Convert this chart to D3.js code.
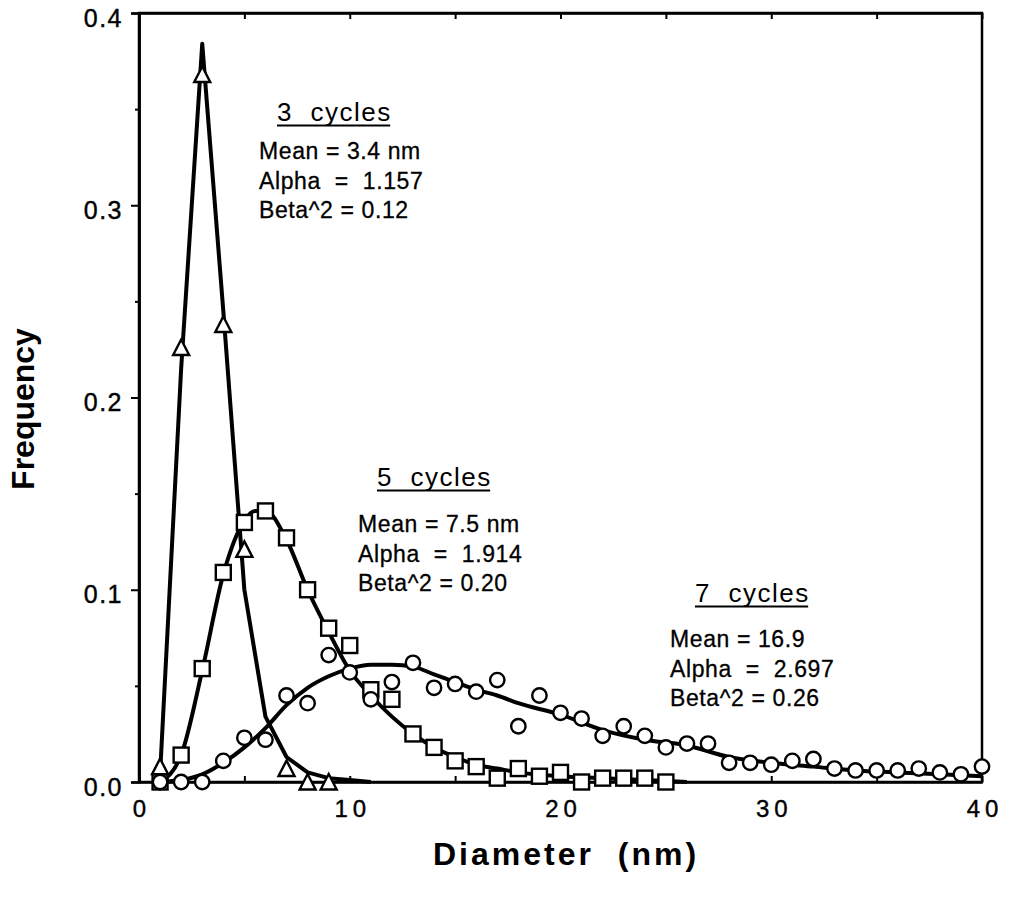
<!DOCTYPE html>
<html>
<head>
<meta charset="utf-8">
<script src="https://cdn.jsdelivr.net/npm/d3@7"></script>
<style>
  body { margin: 0; background: #fff; }
  svg { display: block; font-family: "Liberation Sans", Arial, Helvetica, sans-serif; }
  text { white-space: pre; }
</style>
</head>
<body>
<svg id="chart"></svg>
<script>
// 3 cycles (triangles)
var tri_x = [1, 2, 3, 4, 5, 7, 8, 9];
var tri_y = [0.008, 0.226, 0.368, 0.238, 0.121, 0.007, 0.000, 0.000];
var fit3_x = [1, 2, 3, 4, 5, 6, 7, 8, 9, 10, 11];
var fit3_y = [0.004, 0.215, 0.384, 0.245, 0.100, 0.034, 0.013, 0.005, 0.002, 0.001, 0.000];

// 5 cycles (squares)
var sq_x = [1, 2, 3, 4, 5, 6, 7, 8, 9, 10, 11, 12, 13, 14, 15, 16, 17, 18, 19, 20, 21, 22, 23, 24, 25];
var sq_y = [0.000, 0.014, 0.059, 0.109, 0.135, 0.141, 0.127, 0.100, 0.080, 0.071, 0.048, 0.043, 0.025,
            0.018, 0.011, 0.008, 0.002, 0.007, 0.003, 0.005, 0.000, 0.002, 0.002, 0.002, 0.000];
var fit5_x = [1, 2, 3, 4, 5, 5.5, 6, 7, 8, 9, 10, 11, 12, 13, 14, 15, 16, 17, 18, 20, 22, 24, 26];
var fit5_y = [0.000, 0.014, 0.058, 0.108, 0.136, 0.141, 0.141, 0.126, 0.100, 0.078, 0.058, 0.045,
              0.034, 0.025, 0.018, 0.013, 0.009, 0.007, 0.005, 0.003, 0.002, 0.001, 0.000];

// 7 cycles (circles)
var circ_x = d3.range(1, 41);
var circ_y = [0.000, 0.000, 0.000, 0.011, 0.023, 0.022, 0.045, 0.041, 0.066, 0.057,
              0.043, 0.052, 0.062, 0.049, 0.051, 0.047, 0.053, 0.029, 0.045, 0.036,
              0.033, 0.024, 0.029, 0.024, 0.018, 0.020, 0.020, 0.010, 0.010, 0.009,
              0.011, 0.012, 0.007, 0.006, 0.006, 0.006, 0.007, 0.005, 0.004, 0.008];
var fit7_x = [1, 2, 3, 4, 5, 6, 7, 8, 9, 10, 11, 12, 13, 14, 15, 16, 17, 18, 20, 22, 24, 26, 28, 30, 32, 34, 36, 38, 40];
var fit7_y = [0.000, 0.001, 0.004, 0.010, 0.018, 0.028, 0.040, 0.049, 0.055, 0.059, 0.061, 0.061,
              0.060, 0.056, 0.052, 0.048, 0.045, 0.041, 0.035, 0.027, 0.022, 0.019, 0.013, 0.010,
              0.008, 0.006, 0.005, 0.004, 0.003];

var x_ticks = [0, 5, 10, 15, 20, 25, 30, 35, 40];
var y_ticks = [0.0, 0.1, 0.2, 0.3, 0.4];
var y_minor = [0.05, 0.15, 0.25, 0.35];

var notes = [
  {title: "3  cycles", lines: ["Mean = 3.4 nm", "Alpha  =  1.157", "Beta^2 = 0.12"], tx: 277, ty: 121, lx: 259, ly: 159},
  {title: "5  cycles", lines: ["Mean = 7.5 nm", "Alpha  =  1.914", "Beta^2 = 0.20"], tx: 377, ty: 486, lx: 358, ly: 532},
  {title: "7  cycles", lines: ["Mean = 16.9", "Alpha  =  2.697", "Beta^2 = 0.26"], tx: 695, ty: 602, lx: 670, ly: 647}
];

var W = 1009, H = 897;
var margin = {top: 13, right: 27, bottom: 115, left: 139};
var width = W - margin.left - margin.right;
var height = H - margin.top - margin.bottom;

var svg = d3.select("#chart").attr("width", W).attr("height", H)
  .append("g")
    .attr("transform", "translate(" + margin.left + "," + margin.top + ")");

var x = d3.scaleLinear().domain([0, 40]).range([0, width]);
var y = d3.scaleLinear().domain([0, 0.4]).range([height, 0]);

function zip(xs, ys) { return xs.map((d, i) => [d, ys[i]]); }

// frame
svg.append("rect")
  .attr("width", width).attr("height", height)
  .attr("fill", "none").attr("stroke", "#000").attr("stroke-width", 2.5);

// bottom axis, inward ticks
var xb = svg.append("g")
  .attr("transform", "translate(0," + height + ")")
  .call(d3.axisBottom(x).tickValues(x_ticks).tickSizeInner(-6).tickSizeOuter(0).tickPadding(18)
    .tickFormat(d => d % 10 === 0 ? d : ""));
xb.selectAll("text").attr("font-size", 24).attr("letter-spacing", 5).attr("dx", 2.5)
  .attr("fill", "#000").attr("stroke", "#000").attr("stroke-width", 0.4);

// top axis, inward ticks, no labels
svg.append("g")
  .call(d3.axisTop(x).tickValues(x_ticks).tickSizeInner(-6).tickSizeOuter(0).tickFormat(""));

// left axis, outward ticks
var yl = svg.append("g")
  .call(d3.axisLeft(y).tickValues(y_ticks).tickSize(8).tickPadding(8).tickFormat(d3.format(".1f")));
yl.selectAll("text").attr("font-size", 25).attr("letter-spacing", 1.5).attr("dy", "0.52em")
  .attr("fill", "#000").attr("stroke", "#000").attr("stroke-width", 0.4);
svg.append("g")
  .call(d3.axisLeft(y).tickValues(y_minor).tickSize(4).tickSizeOuter(0).tickFormat(""));

svg.selectAll(".domain").attr("stroke-width", 2.5);
svg.selectAll(".tick line").attr("stroke-width", 2);

// fitted curves
var line = d3.line().x(d => x(d[0])).y(d => y(d[1]));
var smooth = d3.line().x(d => x(d[0])).y(d => y(d[1])).curve(d3.curveMonotoneX);

var curves = svg.append("g").attr("fill", "none").attr("stroke", "#000")
  .attr("stroke-width", 4).attr("stroke-linejoin", "round");
curves.append("path").datum(zip(fit7_x, fit7_y)).attr("d", smooth);
curves.append("path").datum(zip(fit5_x, fit5_y)).attr("d", smooth);
curves.append("path").datum(zip(fit3_x, fit3_y)).attr("d", line);

// markers
var marks = svg.append("g").attr("fill", "#fff").attr("stroke", "#000").attr("stroke-width", 2.4);

marks.selectAll("path.tri")
  .data(zip(tri_x, tri_y))
  .join("path")
    .attr("class", "tri")
    .attr("transform", d => "translate(" + x(d[0]) + "," + y(d[1]) + ")")
    .attr("d", "M0,-8L8,7.5L-8,7.5Z");

marks.selectAll("rect.sq")
  .data(zip(sq_x, sq_y))
  .join("rect")
    .attr("class", "sq")
    .attr("x", d => x(d[0]) - 7.5)
    .attr("y", d => y(d[1]) - 7.5)
    .attr("width", 15).attr("height", 15);

marks.selectAll("circle")
  .data(zip(circ_x, circ_y))
  .join("circle")
    .attr("cx", d => x(d[0]))
    .attr("cy", d => y(d[1]))
    .attr("r", 7.2);

// annotations
var root = d3.select("#chart");
notes.forEach(n => {
  var t = root.append("text")
    .attr("x", n.tx).attr("y", n.ty)
    .attr("font-size", 26).attr("letter-spacing", 1.5)
    .text(n.title);
  var w = t.node().getComputedTextLength();
  root.append("line")
    .attr("x1", n.tx).attr("x2", n.tx + w - 1.5)
    .attr("y1", n.ty + 4.5).attr("y2", n.ty + 4.5)
    .attr("stroke", "#000").attr("stroke-width", 1.8);
  n.lines.forEach((s, i) => {
    root.append("text")
      .attr("x", n.lx).attr("y", n.ly + i * 29.7)
      .attr("font-size", 23).attr("letter-spacing", 0.6)
      .attr("stroke", "#000").attr("stroke-width", 0.3)
      .text(s);
  });
});

// axis titles
root.append("text")
  .attr("text-anchor", "middle")
  .attr("transform", "translate(566,865)")
  .attr("font-size", 32).attr("font-weight", "bold").attr("letter-spacing", 3)
  .text("Diameter  (nm)");

root.append("text")
  .attr("text-anchor", "middle")
  .attr("transform", "translate(34,409) rotate(-90)")
  .attr("font-size", 32).attr("font-weight", "bold")
  .text("Frequency");
</script>
</body>
</html>
